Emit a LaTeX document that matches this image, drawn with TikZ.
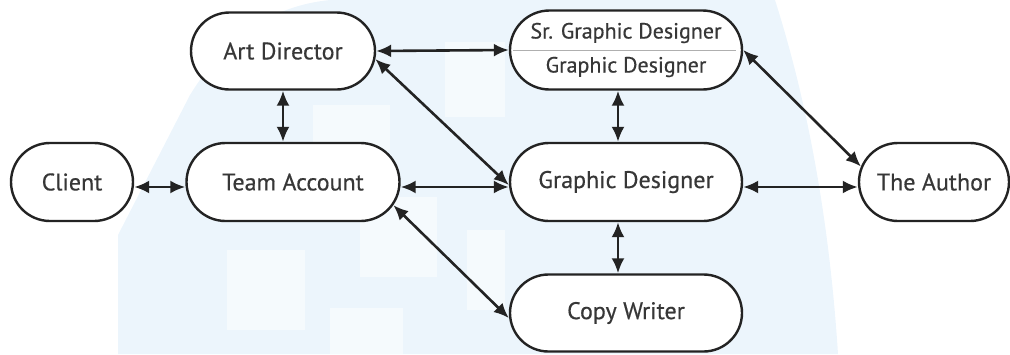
\documentclass[tikz,border=0pt]{standalone}
\usepackage{fontspec}
\setmainfont{PT Sans}[FakeBold=0.45]
\usetikzlibrary{shapes.misc,arrows.meta,calc}
\definecolor{ink}{RGB}{35,35,35}
\definecolor{txt}{RGB}{55,55,55}
\definecolor{bgblue}{RGB}{236,245,252}
\definecolor{divgray}{RGB}{175,175,175}
\tikzset{
  role/.style={rounded rectangle, draw=ink, line width=2.4pt, fill=white,
    minimum height=78pt, inner sep=0pt, text=txt, font=\fontsize{24}{27}\selectfont},
  subtext/.style={inner sep=0pt, text=txt, font=\fontsize{22}{25}\selectfont},
  lk/.style={draw=ink, line width=2.6pt,
    {Latex[length=15pt,width=13pt]}-{Latex[length=15pt,width=13pt]}},
  patch/.style={fill=white, draw=none, opacity=0.5}
}
\begin{document}
\begin{tikzpicture}[x=1pt,y=-1pt]
\useasboundingbox (0,0) rectangle (1010,354);
% faint background watermark
\fill[bgblue] (118,354) -- (118,235) -- (190,95) .. controls (230,30) and (280,5) .. (330,0)
  -- (775,0) .. controls (810,110) and (830,230) .. (838,354) -- cycle;
\fill[patch] (227,250) rectangle (305,330);
\fill[patch] (360,197) rectangle (437,277);
\fill[patch] (330,308) rectangle (403,354);
\fill[patch] (445,42) rectangle (505,117);
\fill[patch] (467,230) rectangle (505,310);
\fill[patch] (313,105) rectangle (390,150);

% nodes
\node[role, minimum width=122pt] (cl) at (72,182) {Client};
\node[role, minimum width=184pt, minimum height=77pt] (ad) at (283,51) {Art Director};
\node[role, minimum width=213pt] (ta) at (293,182) {Team Account};
\node[role, minimum width=232pt, minimum height=79pt] (sgd) at (626,50) {};
\node[subtext] (sgdA) at (626,33) {Sr. Graphic Designer};
\node[subtext] (sgdB) at (626,67) {Graphic Designer};
\node[role, minimum width=232pt] (gd) at (626,182) {Graphic Designer};
\node[role, minimum width=232pt, minimum height=77pt] (cw) at (626,313) {Copy Writer};
\node[role, minimum width=150pt] (au) at (934,182) {The Author};
\draw[divgray, line width=1pt] ([xshift=4pt]sgd.west) -- ([xshift=-7pt]sgd.east);

% connectors
\draw[lk] ([yshift=-5pt]cl.east) -- ([yshift=-5pt]ta.west);
\draw[lk] (ad.south) -- (ad.south |- ta.north);
\draw[lk] (ad.east) -- (sgd.west);
\draw[lk] (ad.-5) -- ([yshift=-3pt]gd.west);
\draw[lk] ([yshift=-5pt]ta.east) -- ([yshift=-5pt]gd.west);
\draw[lk] (ta.-13) -- ([yshift=-5pt]cw.west);
\draw[lk] ([xshift=-8pt]sgd.south) -- ([xshift=-8pt]gd.north);
\draw[lk] (sgd.east) -- (au.168);
\draw[lk] ([yshift=-5pt]gd.east) -- ([yshift=-5pt]au.west);
\draw[lk] ([xshift=-8pt]gd.south) -- ([xshift=-8pt]cw.north);
\end{tikzpicture}
\end{document}
